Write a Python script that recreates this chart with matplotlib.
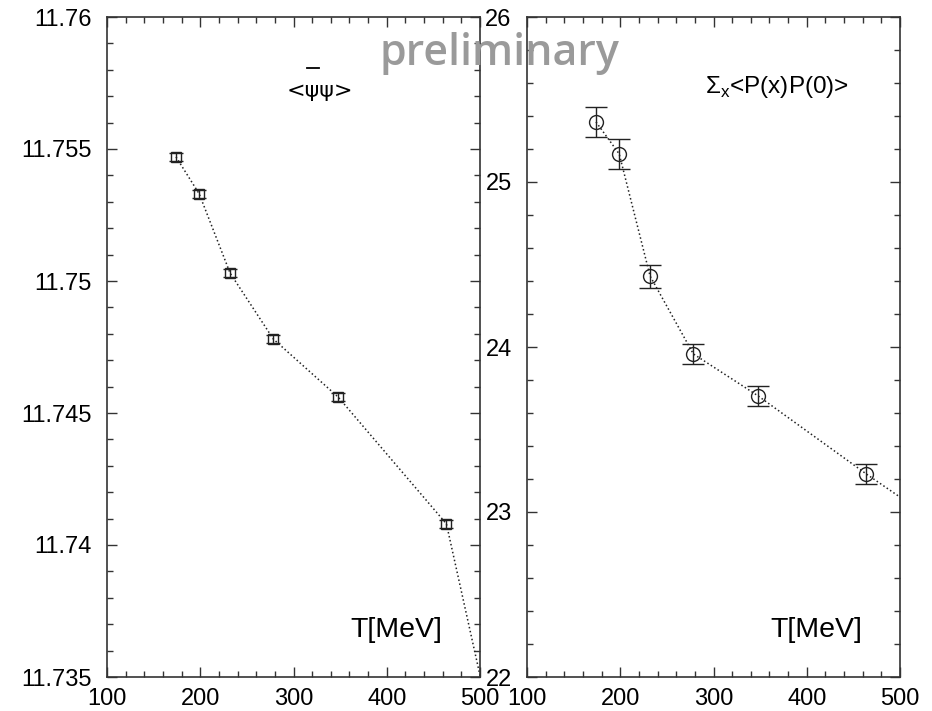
import matplotlib
matplotlib.use('Agg')
import matplotlib.pyplot as plt
from matplotlib.lines import Line2D

# temperaturas (MeV)
temp = [174, 198.9, 232, 278.4, 348, 464, 696]

# <psibar psi>
pbp = [11.7547, 11.7533, 11.7503, 11.7478, 11.7456, 11.7408, 11.7038]
pbp_err = [0.00015, 0.00015, 0.00015, 0.00015, 0.00015, 0.00015, 0.00015]

# sum_x <P(x)P(0)>
pp = [25.364, 25.17, 24.43, 23.958, 23.703, 23.23, 22.33]
pp_err = [0.09, 0.09, 0.07, 0.06, 0.06, 0.06, 0.06]

plt.rcParams['font.family'] = ['Liberation Sans', 'DejaVu Sans']
plt.rcParams['mathtext.fontset'] = 'custom'
plt.rcParams['mathtext.rm'] = 'Liberation Sans'

fig = plt.figure(figsize=(9.32, 7.11), dpi=100)
ax1 = fig.add_axes([107/932, 34/711, 373/932, 660/711])
ax2 = fig.add_axes([527/932, 34/711, 373/932, 660/711])


def estilo(ax):
    ax.set_xlim(100, 500)
    ax.set_xticks([100, 200, 300, 400, 500])
    ax.set_xticks(range(100, 501, 20), minor=True)
    ax.tick_params(which='both', direction='in', top=True, right=True,
                   color='#333333', labelsize=17)
    ax.tick_params(axis='x', pad=8)
    ax.tick_params(axis='y', pad=11)
    ax.tick_params(which='major', length=7, width=1)
    ax.tick_params(which='minor', length=4, width=1)
    for s in ax.spines.values():
        s.set_linewidth(1.2)
        s.set_color('#333333')
    ax.text(0.9, 0.06, 'T[MeV]', transform=ax.transAxes, fontsize=20.5,
            ha='right', va='baseline')


ax1.errorbar(temp, pbp, yerr=pbp_err, fmt='s', ms=7, mfc='none', mec='#222222',
             mew=1.0, ecolor='#222222', elinewidth=1.0, capsize=5, capthick=1.0)
ax1.plot(temp, pbp, ':', color='#222222', lw=1.1)
estilo(ax1)
ax1.set_ylim(11.735, 11.76)
ax1.set_yticks([11.735, 11.74, 11.745, 11.75, 11.755, 11.76])
ax1.set_yticklabels(['11.735', '11.74', '11.745', '11.75', '11.755', '11.76'])
ax1.set_yticks([11.735 + 0.001 * i for i in range(26)], minor=True)
fig.text(320/932, 1 - 97/711, '<ψψ>', fontsize=16, ha='center', va='baseline',
         family=['DejaVu Sans'])
# barra sobre o primeiro psi
fig.add_artist(Line2D([307/932, 319/932], [1 - 68/711, 1 - 68/711],
                      color='black', lw=1.3))

ax2.errorbar(temp, pp, yerr=pp_err, fmt='o', ms=10, mfc='none', mec='#222222',
             mew=1.0, ecolor='#222222', elinewidth=1.0, capsize=8, capthick=1.0)
ax2.plot(temp, pp, ':', color='#222222', lw=1.1)
estilo(ax2)
ax2.set_ylim(22, 26)
ax2.set_yticks([22, 23, 24, 25, 26])
ax2.set_yticks([22 + 0.2 * i for i in range(21)], minor=True)
ax2.text(0.478, 0.885, r'$\Sigma_\mathrm{x}$<P(x)P(0)>', transform=ax2.transAxes,
         fontsize=17.5, ha='left', va='baseline')

fig.text(499/932, 1 - 65/711, 'preliminary', fontsize=31, color='#9a9a9a',
         family='Open Sans', weight='semibold', ha='center', va='baseline')

fig.savefig('out.png', dpi=100)
